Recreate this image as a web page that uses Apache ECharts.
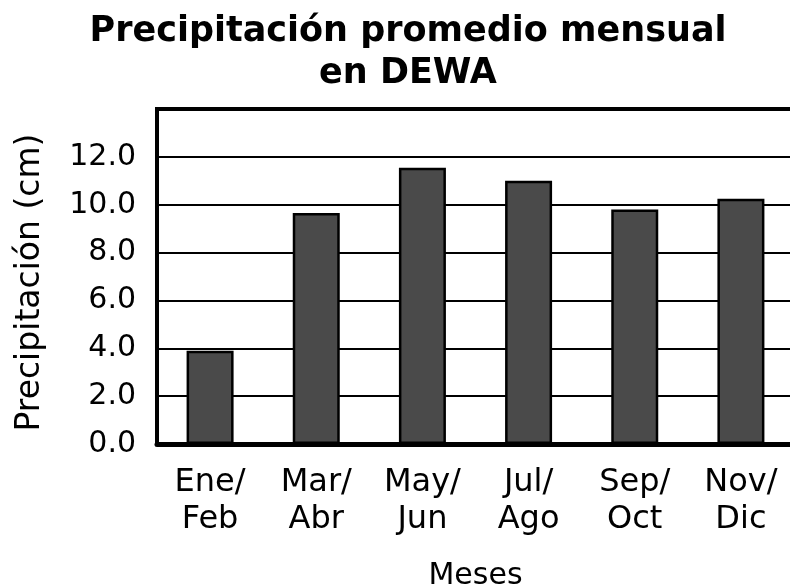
<!DOCTYPE html>
<html>
<head>
<meta charset="utf-8">
<script src="https://cdn.jsdelivr.net/npm/echarts@6/dist/echarts.min.js"></script>
<style>
  html, body { margin: 0; padding: 0; background: #fff; }
  #chart { width: 790px; height: 586px; }
</style>
</head>
<body>
<div id="chart"></div>
<script>
// datos
const meses = ['Ene/\nFeb', 'Mar/\nAbr', 'May/\nJun', 'Jul/\nAgo', 'Sep/\nOct', 'Nov/\nDic']
const precipitacion = [3.9, 9.65, 11.55, 11.0, 9.8, 10.25]

const fuente = 'DejaVu Sans'
const chart = echarts.init(document.getElementById('chart'))

const option = {
  animation: false,
  textStyle: { fontFamily: fuente, color: '#000' },
  title: {
    text: 'Precipitación promedio mensual\nen DEWA',
    left: 403,
    top: 6,
    textAlign: 'center',
    textStyle: {
      fontFamily: fuente,
      fontWeight: 'bold',
      fontSize: 35,
      lineHeight: 42,
      color: '#000'
    }
  },
  grid: {
    left: 157,
    right: -4,
    top: 109,
    bottom: 142,
    show: true,
    borderColor: '#000',
    borderWidth: 4,
    containLabel: false,
    outerBoundsMode: 'none'
  },
  xAxis: {
    type: 'category',
    data: meses,
    name: 'Meses',
    nameLocation: 'middle',
    nameGap: 117,
    nameTextStyle: { fontSize: 30, color: '#000', fontFamily: fuente },
    axisLine: { lineStyle: { color: '#000', width: 5 } },
    axisTick: { show: false },
    axisLabel: {
      fontSize: 32,
      lineHeight: 37,
      color: '#000',
      margin: 20,
      interval: 0
    }
  },
  yAxis: {
    type: 'value',
    min: 0,
    max: 14,
    interval: 2,
    name: 'Precipitación (cm)',
    nameLocation: 'middle',
    nameGap: 110,
    nameTextStyle: {
      fontSize: 33,
      color: '#000',
      fontFamily: fuente,
      padding: [0, 12, 0, 0]
    },
    axisLine: { show: true, lineStyle: { color: '#000', width: 4 } },
    axisTick: { show: false },
    axisLabel: {
      fontSize: 30,
      color: '#000',
      margin: 21,
      formatter: (v) => (v >= 14 ? '' : v.toFixed(1))
    },
    splitLine: { lineStyle: { color: '#000', width: 2 } }
  },
  series: [
    {
      type: 'bar',
      data: precipitacion,
      barWidth: 47,
      itemStyle: {
        color: '#4a4a4a',
        borderColor: '#000',
        borderWidth: 2.5
      }
    }
  ]
}

chart.setOption(option)
</script>
</body>
</html>
